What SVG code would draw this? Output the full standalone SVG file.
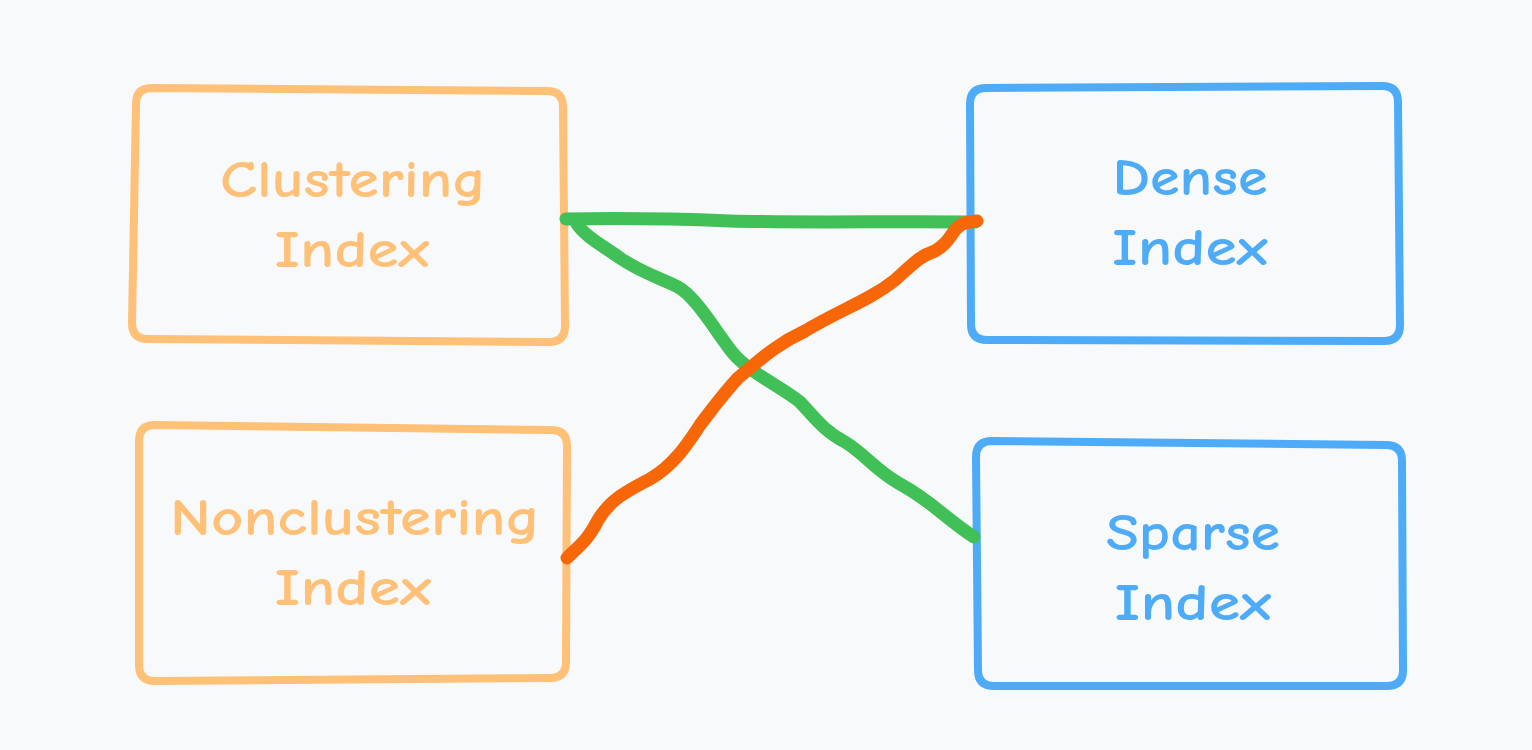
<svg xmlns="http://www.w3.org/2000/svg" width="1532" height="750" viewBox="0 0 1532 750">
<style>
.box{fill:none;stroke-width:8;stroke-linejoin:round}
.o{stroke:#ffc078}
.b{stroke:#4dabf7}
.lbl{font-family:"Comic Neue","Liberation Sans",sans-serif;font-size:52px;font-weight:bold;text-anchor:middle}
.to{fill:#ffc078}
.tb{fill:#4dabf7}
.c{fill:none;stroke-width:13;stroke-linecap:round;stroke-linejoin:round}
</style>
<rect width="1532" height="750" fill="#f8f9fa"/>
<g id="clustering">
<path class="box o" d="M152,88 L547,91 Q563,91 563,107 L565,326 Q565,342 549,342 L148,339 Q132,339 132,323 L136,104 Q136,88 152,88 Z"/>
<text class="lbl to" x="353" y="197" textLength="266" lengthAdjust="spacingAndGlyphs">Clustering</text>
<text class="lbl to" x="352" y="267" textLength="155" lengthAdjust="spacingAndGlyphs">Index</text>
</g>
<g id="nonclustering">
<path class="box o" d="M155,425 L551,430 Q567,430 567,446 L566,662 Q566,678 550,678 L155,681 Q139,681 139,665 L139,441 Q139,425 155,425 Z"/>
<text class="lbl to" x="355" y="535" textLength="370" lengthAdjust="spacingAndGlyphs">Nonclustering</text>
<text class="lbl to" x="353" y="605" textLength="157" lengthAdjust="spacingAndGlyphs">Index</text>
</g>
<g id="dense">
<path class="box b" d="M986,88 L1382,86 Q1398,86 1398,102 L1400,325 Q1400,341 1384,341 L987,340 Q971,340 971,324 L970,104 Q970,88 986,88 Z"/>
<text class="lbl tb" x="1190" y="195" textLength="155" lengthAdjust="spacingAndGlyphs">Dense</text>
<text class="lbl tb" x="1190" y="265" textLength="156" lengthAdjust="spacingAndGlyphs">Index</text>
</g>
<g id="sparse">
<path class="box b" d="M992,441 L1386,445 Q1402,445 1402,461 L1403,670 Q1403,686 1387,686 L994,686 Q978,686 978,670 L976,457 Q976,441 992,441 Z"/>
<text class="lbl tb" x="1193" y="550" textLength="174" lengthAdjust="spacingAndGlyphs">Sparse</text>
<text class="lbl tb" x="1193" y="620" textLength="157" lengthAdjust="spacingAndGlyphs">Index</text>
</g>
<g id="connectors">
<path class="c" stroke="#40c057" d="M566,219 C620,218 680,219 730,221 C800,223 900,221 975,222"/>
<path class="c" stroke="#40c057" d="M577,224 C585,236 600,244 620,258 C640,272 660,278 678,287 C695,296 715,330 732,352 C748,372 780,386 800,402 C815,418 825,432 845,442 C865,454 875,470 900,484 C930,500 945,518 974,537"/>
<path class="c" stroke="#f76707" d="M567,558 C580,545 588,540 598,520 C610,500 625,492 650,479 C675,465 690,440 700,425 C715,405 725,392 738,378 C760,360 775,345 805,331 C840,310 870,300 895,280 C915,262 920,256 935,251 C945,245 948,240 955,230 C962,222 968,222 977,221"/>
</g>
</svg>
